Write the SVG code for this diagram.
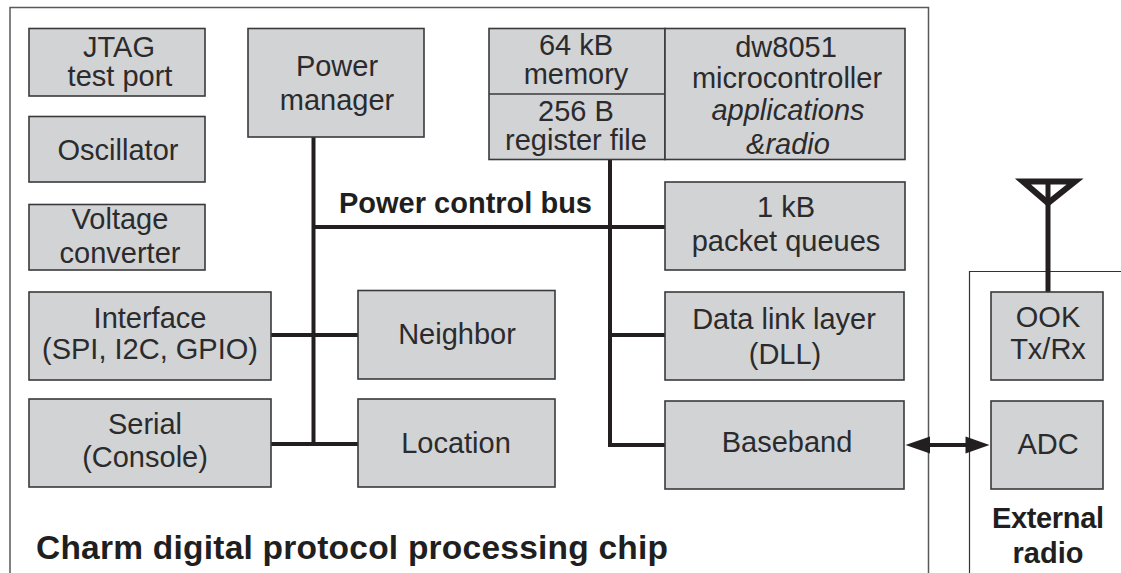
<svg xmlns="http://www.w3.org/2000/svg" width="1121" height="573" viewBox="0 0 1121 573">
<defs>
<style>
text{font-family:"Liberation Sans",Arial,sans-serif;font-size:29px;fill:#2b2b2d;text-anchor:middle}
.b{font-weight:bold;fill:#1f1f21;font-size:29px}
.i{font-style:italic}
.n{fill:#d1d3d4;stroke:#3a3a3c;stroke-width:1.6}
.o{fill:none;stroke:#5a5a5c;stroke-width:1.5}
.c{fill:none;stroke:#231f20;stroke-width:4}
.l{fill:none;stroke:#3a3a3c;stroke-width:1.6}
</style>
</defs>
<rect width="1121" height="573" fill="#fff"/>
<g id="chip-boundary"><path class="o" d="M10 573V7.500H928.500V573"/></g>
<g id="radio-boundary"><path class="o" style="stroke-width:1.2;stroke:#333" d="M1121 271.500H969.500V573"/></g>
<g id="connectors">
<path class="c" d="M313.500 137V446M313.500 227H665M271 335H358M271 444H358"/>
<path class="c" d="M610 159V445H665M610 335H665"/>
<path class="c" d="M925 445H970"/>
<path fill="#231f20" d="M905.500 445L930 436.500V453.500Z"/>
<path fill="#231f20" d="M989.500 445L965.500 436.500V453.500Z"/>
<path class="c" d="M1048 292V182" style="stroke-width:5"/>
<path class="c" d="M1023 181.500H1075L1048 203Z" style="stroke-width:6"/>
</g>
<g id="jtag"><rect class="n" x="29" y="28.500" width="176" height="67.500"/><text x="119" y="57">JTAG</text><text x="120" y="86">test port</text></g>
<g id="oscillator"><rect class="n" x="29" y="116.500" width="176" height="65.500"/><text x="118" y="160">Oscillator</text></g>
<g id="voltage"><rect class="n" x="29" y="204.500" width="176" height="65.500"/><text x="120" y="229">Voltage</text><text x="120" y="263">converter</text></g>
<g id="power-manager"><rect class="n" x="248" y="28.500" width="176" height="108.500"/><text x="337" y="76">Power</text><text x="337" y="110">manager</text></g>
<g id="memory"><rect class="n" x="489" y="28.500" width="176" height="131"/><path class="l" d="M489 94H665"/><text x="576" y="54.500">64 kB</text><text x="576" y="84">memory</text><text x="576" y="120.500">256 B</text><text x="576" y="150">register file</text></g>
<g id="microcontroller"><rect class="n" x="665" y="28.500" width="240" height="131"/><text x="786" y="57">dw8051</text><text x="787" y="88">microcontroller</text><text class="i" x="788" y="120">applications</text><text class="i" x="788" y="154">&amp;radio</text></g>
<g id="packet-queues"><rect class="n" x="665" y="182" width="240" height="88"/><text x="786" y="217">1 kB</text><text x="786" y="251">packet queues</text></g>
<g id="interface"><rect class="n" x="29" y="292" width="242" height="88"/><text x="150" y="328">Interface</text><text x="150" y="359">(SPI, I2C, GPIO)</text></g>
<g id="neighbor"><rect class="n" x="358" y="290.500" width="197" height="88.500"/><text x="457" y="344">Neighbor</text></g>
<g id="serial"><rect class="n" x="29" y="399" width="242" height="88"/><text x="145" y="434">Serial</text><text x="145" y="467">(Console)</text></g>
<g id="location"><rect class="n" x="358" y="399" width="197" height="88"/><text x="456" y="453">Location</text></g>
<g id="dll"><rect class="n" x="665" y="292" width="239" height="88"/><text x="784" y="329">Data link layer</text><text x="785" y="364">(DLL)</text></g>
<g id="baseband"><rect class="n" x="665" y="401" width="239" height="88"/><text x="787" y="452">Baseband</text></g>
<g id="ook"><rect class="n" x="991" y="292" width="112" height="88"/><text x="1048" y="327">OOK</text><text x="1048" y="359">Tx/Rx</text></g>
<g id="adc"><rect class="n" x="991" y="401" width="112" height="88"/><text x="1048" y="454">ADC</text></g>
<text class="b" x="465.500" y="213" textLength="253">Power control bus</text>
<text class="b" style="text-anchor:start;font-size:33.500px" x="36" y="559" textLength="632">Charm digital protocol processing chip</text>
<text class="b" x="1048" y="528" textLength="112">External</text>
<text class="b" x="1048" y="563">radio</text>
</svg>
